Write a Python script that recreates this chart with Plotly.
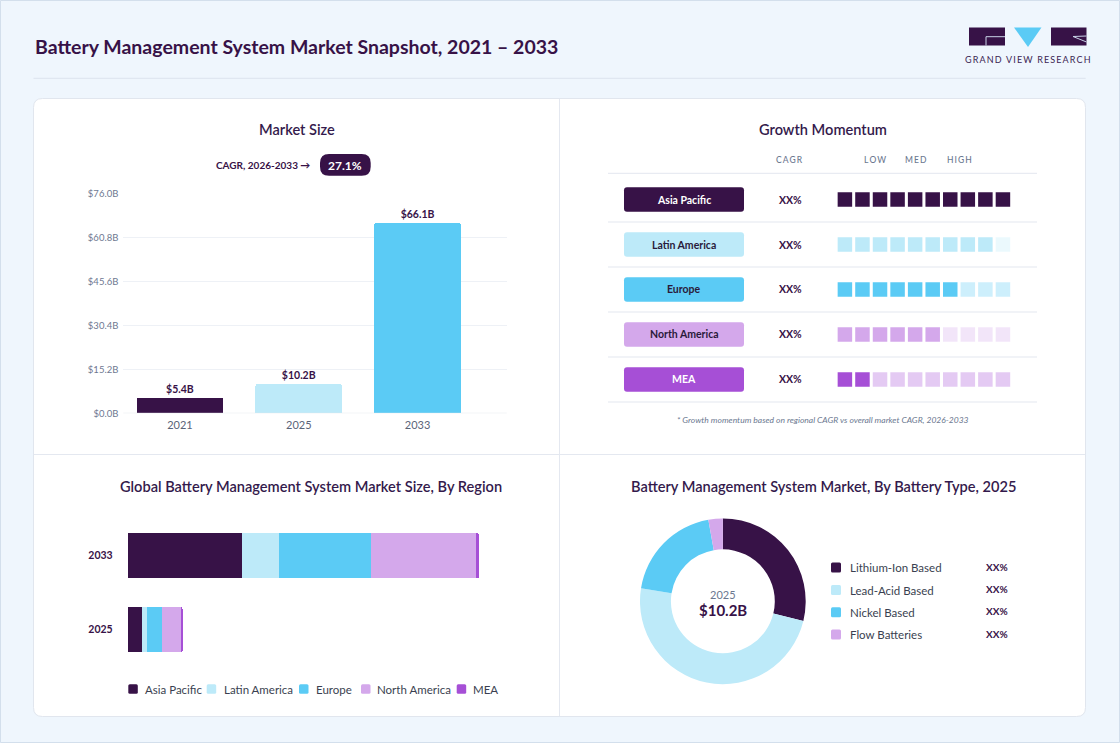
import plotly.graph_objects as go

# ---------------- DATA ----------------
years = ["2021", "2025", "2033"]
market_size = [5.4, 10.2, 66.1]
size_labels = ["$5.4B", "$10.2B", "$66.1B"]
y_ticks = [0, 15.2, 30.4, 45.6, 60.8, 76.0]
y_tick_labels = ["$0.0B", "$15.2B", "$30.4B", "$45.6B", "$60.8B", "$76.0B"]
cagr_text = "CAGR, 2026-2033 \u2192"
cagr_value = "27.1%"

regions = ["Asia Pacific", "Latin America", "Europe", "North America", "MEA"]
momentum_levels = [10, 9, 7, 6, 2]
momentum_cagr = ["XX%", "XX%", "XX%", "XX%", "XX%"]
momentum_headers = ["CAGR", "LOW", "MED", "HIGH"]
n_cells = 10

region_years = ["2025", "2033"]
region_2025 = [2.6, 1.0, 2.9, 3.5, 0.2]
region_2033 = [21.5, 6.9, 17.3, 19.7, 0.7]
region_total_labels = ["$10.2B", "$66.1B"]

battery_types = ["Lithium-Ion Based", "Lead-Acid Based", "Nickel Based", "Flow Batteries"]
battery_share = [28.8, 48.7, 19.7, 2.8]
battery_pct_labels = ["XX%", "XX%", "XX%", "XX%"]
donut_year = "2025"
donut_total = "$10.2B"

# ---------------- STYLE ----------------
W, H = 1120, 743
FONT = "Lato, 'Noto Sans', sans-serif"
DARK = "#371247"
TITLE_C = "#341A4C"
GRAY = "#6B7890"
region_colors = ["#371247", "#BDEAF9", "#5BCBF5", "#D4A8EB", "#A64FD6"]
region_text_colors = ["#FFFFFF", "#2A1A3A", "#2A1A3A", "#2A1A3A", "#FFFFFF"]
year_colors = ["#371247", "#BDEAF9", "#5BCBF5"]
battery_colors = ["#371247", "#BDEAF9", "#5BCBF5", "#D4A8EB"]


def X(p):
    return p / W


def Y(p):
    return 1 - p / H


def rrect(x0, y0, x1, y1, r, fill, line=None, lw=0):
    path = (f"M {X(x0+r)},{Y(y0)} L {X(x1-r)},{Y(y0)} Q {X(x1)},{Y(y0)} {X(x1)},{Y(y0+r)} "
            f"L {X(x1)},{Y(y1-r)} Q {X(x1)},{Y(y1)} {X(x1-r)},{Y(y1)} "
            f"L {X(x0+r)},{Y(y1)} Q {X(x0)},{Y(y1)} {X(x0)},{Y(y1-r)} "
            f"L {X(x0)},{Y(y0+r)} Q {X(x0)},{Y(y0)} {X(x0+r)},{Y(y0)} Z")
    return dict(type="path", path=path, xref="paper", yref="paper", fillcolor=fill,
                line=dict(color=line or fill, width=lw), layer="below")


shapes = []
ann = []


def text(x, y, s, size=11, color=DARK, weight=400, xanchor="center", style="normal", xref="paper", yref="paper"):
    ann.append(dict(x=x if xref != "paper" else X(x), y=y if yref != "paper" else Y(y), xref=xref, yref=yref,
                    text=s, showarrow=False, xanchor=xanchor, yanchor="middle",
                    font=dict(family=FONT, size=size, color=color, weight=weight, style=style)))


# page frame, header
shapes.append(dict(type="rect", xref="paper", yref="paper", x0=X(0.5), x1=X(W - 0.5), y0=Y(H - 0.5), y1=Y(0.5),
                   line=dict(color="#D3DFEC", width=1), fillcolor="rgba(0,0,0,0)", layer="below"))
text(32.5, 46.5, "Battery Management System Market Snapshot, 2021 \u2013 2033", size=19.5, color=DARK, weight=700, xanchor="left")
shapes.append(dict(type="line", xref="paper", yref="paper", x0=X(33.5), x1=X(1085.7), y0=Y(78.3), y1=Y(78.3),
                   line=dict(color="#DCE4EE", width=1)))

# logo
shapes.append(dict(type="rect", xref="paper", yref="paper", x0=X(969), x1=X(1005), y0=Y(45.5), y1=Y(27.5),
                   fillcolor=DARK, line_width=0))
shapes.append(dict(type="path", xref="paper", yref="paper",
                   path=f"M {X(1005)},{Y(36.7)} L {X(986)},{Y(36.7)} L {X(986)},{Y(45.5)}",
                   line=dict(color="#C9D3E8", width=1)))
shapes.append(dict(type="path", xref="paper", yref="paper",
                   path=f"M {X(1014)},{Y(27.5)} L {X(1041.5)},{Y(27.5)} L {X(1028)},{Y(47)} Z",
                   fillcolor="#5BCBF5", line_width=0))
shapes.append(dict(type="rect", xref="paper", yref="paper", x0=X(1051), x1=X(1086.5), y0=Y(45.5), y1=Y(27.5),
                   fillcolor=DARK, line_width=0))
shapes.append(dict(type="path", xref="paper", yref="paper",
                   path=f"M {X(1086.5)},{Y(36)} L {X(1073)},{Y(36.5)} L {X(1086.5)},{Y(42)}",
                   line=dict(color="#C9D3E8", width=1)))
text(1028, 59, "\u2009".join("GRAND VIEW RESEARCH"), size=9, color="#3A2452", weight=400)

# card
shapes.append(rrect(33.5, 98.5, 1085.5, 716.5, 9, "#FFFFFF", line="#E1E6EE", lw=1))
shapes.append(dict(type="line", xref="paper", yref="paper", x0=X(559.5), x1=X(559.5), y0=Y(99), y1=Y(716),
                   line=dict(color="#E4E8F0", width=1)))
shapes.append(dict(type="line", xref="paper", yref="paper", x0=X(34), x1=X(1085), y0=Y(454.5), y1=Y(454.5),
                   line=dict(color="#E4E8F0", width=1)))

# panel titles
TS = 14.6
text(296.7, 129, "Market Size", size=TS, color=TITLE_C, weight=600)
text(822.7, 129, "Growth Momentum", size=TS, color=TITLE_C, weight=600)
text(310.5, 486, "Global Battery Management System Market Size, By Region", size=TS, color=TITLE_C, weight=600)
text(823.3, 486, "Battery Management System Market, By Battery Type, 2025", size=TS, color=TITLE_C, weight=600)

fig = go.Figure()

# ---------------- Market size bars ----------------
fig.add_trace(go.Bar(x=years, y=market_size, text=size_labels, textposition="outside", cliponaxis=False,
                     marker=dict(color=year_colors, cornerradius=3, line_width=0), width=0.73,
                     textfont=dict(family=FONT, size=10.5, color=DARK, weight=700),
                     xaxis="x", yaxis="y", showlegend=False, hoverinfo="skip"))
text(312.3, 165, cagr_text, size=10, color=DARK, weight=700, xanchor="right")
shapes.append(rrect(320, 154, 370.7, 175.7, 9, DARK))
text(345.3, 165, cagr_value, size=12, color="#FFFFFF", weight=700)
shapes.append(dict(type="line", xref="paper", yref="y", x0=X(123.3), x1=X(506.7), y0=0, y1=0,
                   line=dict(color="#DFE3EA", width=1)))

# ---------------- Growth momentum ----------------
CELL0_PX, CELL_STEP = 844.9, 17.56
ROW0_PX, ROW_STEP = 199.5, 45.0
GM_X0, GM_X1, GM_Y0, GM_Y1 = 608, 1037, 173.3, 402.3
x2_range = [1 + (GM_X0 - CELL0_PX) / CELL_STEP, 1 + (GM_X1 - CELL0_PX) / CELL_STEP]
y2_range = [(GM_Y1 - ROW0_PX) / ROW_STEP, (GM_Y0 - ROW0_PX) / ROW_STEP]

for r, reg in enumerate(regions):
    cells = list(range(1, n_cells + 1))
    fig.add_trace(go.Scatter(x=cells, y=[reg] * n_cells, mode="markers",
                             marker=dict(symbol="square", size=14.5, color=region_colors[r],
                                         opacity=[1.0 if c <= momentum_levels[r] else 0.3 for c in cells],
                                         line_width=0),
                             xaxis="x2", yaxis="y2", showlegend=False, hoverinfo="skip"))
    cy = ROW0_PX + r * ROW_STEP
    shapes.append(rrect(624, cy - 12.2, 744, cy + 12.2, 3, region_colors[r]))
    text(684, cy, reg, size=10.5, color=region_text_colors[r], weight=700)
    text(790.7, cy, momentum_cagr[r], size=10.5, color=DARK, weight=700)
    shapes.append(dict(type="line", xref="paper", yref="paper", x0=X(GM_X0), x1=X(GM_X1),
                       y0=Y(cy + ROW_STEP / 2), y1=Y(cy + ROW_STEP / 2), line=dict(color="#E3E7EF", width=1)))
shapes.append(dict(type="line", xref="paper", yref="paper", x0=X(GM_X0), x1=X(GM_X1),
                   y0=Y(GM_Y0), y1=Y(GM_Y0), line=dict(color="#E3E7EF", width=1)))
for hx, h in zip([789, 875, 916, 959], momentum_headers):
    text(hx, 160, "\u2009".join(h), size=8.5, color=GRAY, weight=500)
text(822.7, 420, "* Growth momentum based on regional CAGR vs overall market CAGR, 2026-2033",
     size=8.5, color=GRAY, style="italic")

# ---------------- Stacked region bars ----------------
for i, reg in enumerate(regions):
    fig.add_trace(go.Bar(y=region_years, x=[region_2025[i], region_2033[i]], orientation="h",
                         marker=dict(color=region_colors[i], line_width=0), width=0.61,
                         xaxis="x3", yaxis="y3", showlegend=False, hoverinfo="skip", name=reg))
totals = [sum(region_2025), sum(region_2033)]
for yr, tot, lab in zip(region_years, totals, region_total_labels):
    ann.append(dict(x=tot, y=yr, xref="x3", yref="y3", text=lab, showarrow=False, xanchor="left",
                    yanchor="middle", xshift=8, font=dict(family=FONT, size=10.5, color=DARK, weight=700)))
legend_sq_x = [128.3, 206.7, 299, 361, 456.7]
legend_tx_x = [142.7, 222.3, 314, 375, 471]
for i, reg in enumerate(regions):
    shapes.append(rrect(legend_sq_x[i], 684.3, legend_sq_x[i] + 9.5, 693.8, 1.5, region_colors[i]))
    text(legend_tx_x[i], 689, reg, size=11.5, color="#3A3F50", xanchor="left")

# ---------------- Donut ----------------
fig.add_trace(go.Pie(labels=battery_types, values=battery_share, hole=0.627, sort=False,
                     direction="clockwise", rotation=0, textinfo="none",
                     marker=dict(colors=battery_colors, line=dict(width=0)),
                     domain=dict(x=[X(640), X(805.7)], y=[Y(684.3), Y(518.3)]),
                     showlegend=False, hoverinfo="skip"))
text(722.8, 594.7, donut_year, size=11, color=GRAY)
text(722.8, 609.5, donut_total, size=15, color=DARK, weight=700)
leg_rows = [567.5, 590, 612.3, 634.5]
for i, bt in enumerate(battery_types):
    cy = leg_rows[i]
    shapes.append(rrect(831, cy - 5, 841, cy + 5, 1.5, battery_colors[i]))
    text(848.3, cy, bt, size=11.5, color="#3A3F50", xanchor="left")
    text(997.3, cy - 1, battery_pct_labels[i], size=10, color=DARK, weight=700)

fig.update_layout(
    width=W, height=H, margin=dict(l=0, r=0, t=0, b=0, pad=0, autoexpand=False),
    paper_bgcolor="#EFF6FD", plot_bgcolor="rgba(0,0,0,0)",
    barmode="stack", showlegend=False, font=dict(family=FONT),
    xaxis=dict(domain=[X(123.3), X(506.7)], type="category", range=[-0.477, 2.75], showgrid=False,
               zeroline=False, showline=False, ticks="", ticklabelstandoff=4, automargin=False,
               tickfont=dict(family=FONT, size=11, color="#5A6478"), anchor="y", fixedrange=True),
    yaxis=dict(domain=[Y(413.3), Y(194)], range=[0, 76], tickvals=y_ticks, ticktext=y_tick_labels,
               showgrid=True, gridcolor="#EEF1F6", gridwidth=1, zeroline=False, showline=False, ticks="",
               ticklabelstandoff=4, tickfont=dict(family=FONT, size=9.5, color="#6E7891"), anchor="x",
               fixedrange=True, automargin=False),
    xaxis2=dict(domain=[X(GM_X0), X(GM_X1)], range=x2_range, visible=False, anchor="y2", fixedrange=True),
    yaxis2=dict(domain=[Y(GM_Y1), Y(GM_Y0)], type="category", categoryorder="array", categoryarray=regions,
                range=y2_range, visible=False, anchor="x2", fixedrange=True),
    xaxis3=dict(domain=[X(127.7), X(507.7)], range=[0, 71.43], visible=False, anchor="y3", fixedrange=True),
    yaxis3=dict(domain=[Y(665), Y(520)], type="category", categoryorder="array", categoryarray=region_years,
                range=[-0.478, 1.484], showgrid=False, zeroline=False, showline=False, ticks="",
                ticklabelstandoff=14, tickfont=dict(family=FONT, size=10.5, color=DARK, weight=700),
                anchor="x3", fixedrange=True, automargin=False),
    barcornerradius=2,
    shapes=shapes, annotations=ann,
)

fig.write_html("out.html", config={"displayModeBar": False},
               post_script="document.body.style.margin='0';document.body.style.overflow='hidden';")
